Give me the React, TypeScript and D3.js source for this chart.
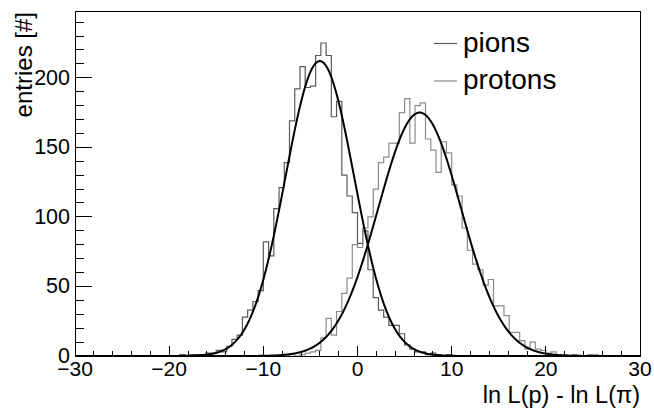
import React from "react";
import * as d3 from "d3";

// ---- data ----
const histRange = [-30, 30];
// 108 bins of width 5/9 between -30 and 30
const pionCounts = [
  0, 0, 0, 0, 0, 0, 0, 0, 0, 0,
  0, 0, 0, 0, 0, 0, 0, 0, 0, 0,
  1, 0, 1, 1, 1, 2, 2, 4, 3, 7,
  12, 15, 28, 33, 39, 47, 82, 72, 106, 121,
  139, 169, 192, 208, 193, 194, 216, 225, 216, 172,
  183, 130, 115, 103, 81, 90, 62, 42, 33, 28,
  22, 22, 16, 8, 5, 3, 3, 1, 2, 1,
  0, 1, 0, 0, 0, 0, 0, 0, 0, 0,
  0, 0, 0, 0, 0, 0, 0, 0, 0, 0,
  0, 0, 0, 0, 0, 0, 0, 0, 0, 0,
  0, 0, 0, 0, 0, 0, 0, 0,
];
const protonCounts = [
  0, 0, 0, 0, 0, 0, 0, 0, 0, 0,
  0, 0, 0, 0, 0, 0, 0, 0, 0, 0,
  0, 0, 0, 0, 0, 0, 0, 0, 0, 0,
  0, 0, 0, 0, 0, 0, 0, 0, 0, 0,
  0, 1, 0, 1, 2, 3, 4, 13, 27, 15,
  32, 45, 56, 80, 78, 92, 100, 120, 139, 143,
  153, 153, 175, 185, 153, 180, 182, 156, 148, 132,
  154, 146, 123, 115, 92, 76, 66, 62, 51, 55,
  36, 36, 29, 17, 17, 11, 5, 10, 5, 4,
  2, 3, 1, 1, 0, 1, 0, 0, 1, 1,
  0, 0, 0, 0, 0, 0, 0, 0,
];
const seriesNames = ["pions", "protons"];
// Gaussian fit parameters: constant, mean, sigma
const fitConstants = [212, 175];
const fitMeans = [-4.0, 6.6];
const fitSigmas = [3.65, 4.4];

const yMaxValue = 248;
const xTickValues = [-30, -20, -10, 0, 10, 20, 30];
const xTickLabels = ["\u221230", "\u221220", "\u221210", "0", "10", "20", "30"];
const yTickValues = [0, 50, 100, 150, 200];
const yTickLabels = ["0", "50", "100", "150", "200"];
const xTitle = "ln L(p) - ln L(\u03c0)";
const yTitle = "entries [#]";

const FONT = "'Liberation Sans', Arial, Helvetica, sans-serif";

export default function App() {
  const W = 654;
  const H = 409;
  const L = 75, R = 640, T = 11, B = 356;
  const x = d3.scaleLinear().domain(histRange).range([L, R]);
  const y = d3.scaleLinear().domain([0, yMaxValue]).range([B, T]);

  const histPath = (counts: number[]) => {
    const n = counts.length;
    const w = (histRange[1] - histRange[0]) / n;
    const pts: [number, number][] = [];
    counts.forEach((c, k) => {
      const x0 = histRange[0] + k * w;
      pts.push([x(x0), y(c)]);
      pts.push([x(x0 + w), y(c)]);
    });
    return d3.line()(pts) || "";
  };

  const fitPath = (i: number) => {
    const xs = d3.range(histRange[0], histRange[1] + 1e-9, 0.05);
    const pts: [number, number][] = xs.map((v) => {
      const z = (v - fitMeans[i]) / fitSigmas[i];
      return [x(v), y(fitConstants[i] * Math.exp(-0.5 * z * z))];
    });
    return d3.line()(pts) || "";
  };

  const histColors = ["#5a5a5a", "#8c8c8c"];
  const series = [pionCounts, protonCounts];

  const xMinor = d3.range(histRange[0], histRange[1] + 1e-9, 2);
  const yMinor = d3.range(0, yMaxValue, 10);

  return (
    <div style={{ position: "fixed", left: 0, top: 0, width: W, height: H, background: "#fff" }}>
      <svg width={W} height={H} style={{ display: "block" }}>
        <rect x={0} y={0} width={W} height={H} fill="#fff" />
        {series.map((s, i) => (
          <path key={"h" + i} d={histPath(s)} fill="none" stroke={histColors[i]} strokeWidth={1.2} />
        ))}
        {series.map((_, i) => (
          <path key={"f" + i} d={fitPath(i)} fill="none" stroke="#000" strokeWidth={2} />
        ))}
        <g shapeRendering="crispEdges" stroke="#000" strokeWidth={1}>
          <rect x={L} y={T} width={R - L} height={B - T} fill="none" />
          {xMinor.map((v) => {
            const major = xTickValues.includes(v);
            return <line key={"xt" + v} x1={x(v)} x2={x(v)} y1={B} y2={B - (major ? 10.4 : 5.2)} />;
          })}
          {yMinor.map((v) => {
            const major = yTickValues.includes(v);
            return <line key={"yt" + v} x1={L} x2={L + (major ? 17 : 8.5)} y1={y(v)} y2={y(v)} />;
          })}
        </g>
        <g fontFamily={FONT} fontSize={21} fill="#000">
          {xTickValues.map((v, i) => (
            <text key={"xl" + v} x={x(v)} y={376} textAnchor="middle">{xTickLabels[i]}</text>
          ))}
          {yTickValues.map((v, i) => (
            <text key={"yl" + v} x={70} y={y(v) + 7} textAnchor="end" fontSize={21.5}>{yTickLabels[i]}</text>
          ))}
        </g>
        <text x={640} y={402.5} textAnchor="end" fontFamily={FONT} fontSize={23.5}>{xTitle}</text>
        <text transform={`translate(32,${T + 1}) rotate(-90)`} textAnchor="end" fontFamily={FONT} fontSize={24}>{yTitle}</text>
        <g fontFamily={FONT} fontSize={28}>
          {seriesNames.map((name, i) => (
            <g key={name}>
              <line x1={434} x2={457} y1={43.5 + i * 37.5} y2={43.5 + i * 37.5} stroke={histColors[i]} strokeWidth={1.2} />
              <text x={463} y={52 + i * 37}>{name}</text>
            </g>
          ))}
        </g>
      </svg>
    </div>
  );
}
